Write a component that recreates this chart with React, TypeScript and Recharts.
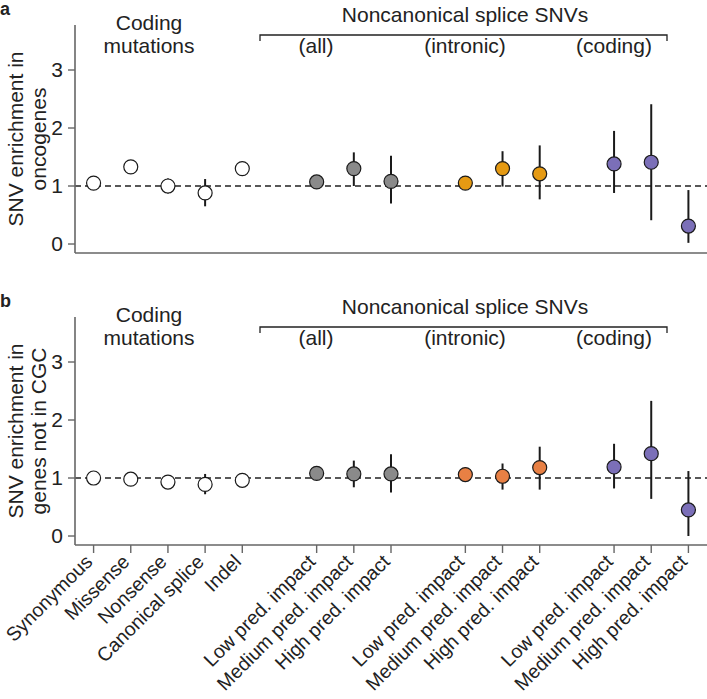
import React from 'react';
import { ScatterChart, Scatter, XAxis, YAxis, ErrorBar, ReferenceLine } from 'recharts';

const categories = [
  'Synonymous', 'Missense', 'Nonsense', 'Canonical splice', 'Indel',
  'Low pred. impact', 'Medium pred. impact', 'High pred. impact',
  'Low pred. impact', 'Medium pred. impact', 'High pred. impact',
  'Low pred. impact', 'Medium pred. impact', 'High pred. impact',
];
const xPositions = [0, 1, 2, 3, 4, 6, 7, 8, 10, 11, 12, 14, 15, 16];
const groups = [
  'coding', 'coding', 'coding', 'coding', 'coding',
  'all', 'all', 'all', 'intronic', 'intronic', 'intronic',
  'splicecoding', 'splicecoding', 'splicecoding',
];

// panel a: enrichment in oncogenes
const oncoValue = [1.05, 1.33, 1.0, 0.88, 1.3, 1.07, 1.3, 1.08, 1.05, 1.3, 1.21, 1.38, 1.41, 0.31];
const oncoLow = [1.0, 1.28, 0.87, 0.65, 1.19, 0.96, 1.0, 0.7, 0.95, 0.99, 0.77, 0.88, 0.41, 0.02];
const oncoHigh = [1.1, 1.38, 1.13, 1.12, 1.42, 1.16, 1.58, 1.52, 1.17, 1.6, 1.7, 1.95, 2.41, 0.93];

// panel b: enrichment in genes not in CGC
const nonCgcValue = [1.0, 0.98, 0.93, 0.89, 0.96, 1.08, 1.07, 1.07, 1.06, 1.03, 1.18, 1.19, 1.42, 0.45];
const nonCgcLow = [0.97, 0.95, 0.88, 0.72, 0.92, 1.02, 0.84, 0.75, 0.95, 0.8, 0.8, 0.82, 0.64, 0.0];
const nonCgcHigh = [1.03, 1.01, 0.98, 1.07, 1.0, 1.14, 1.3, 1.41, 1.18, 1.25, 1.54, 1.59, 2.33, 1.12];

const yTicks = [0, 1, 2, 3];

const colorsA: Record<string, string> = { coding: '#ffffff', all: '#8a8a8a', intronic: '#e59a13', splicecoding: '#7b6fb8' };
const colorsB: Record<string, string> = { coding: '#ffffff', all: '#8a8a8a', intronic: '#e88044', splicecoding: '#7b6fb8' };

const FONT = '"Liberation Sans", Arial, sans-serif';
const W = 707;

function buildRows(values: number[], low: number[], high: number[], colors: Record<string, string>) {
  return values.map((v, i) => ({
    x: xPositions[i],
    y: v,
    err: [v - low[i], high[i] - v],
    fill: colors[groups[i]],
  }));
}

const Dot = (props: any) => {
  const { cx, cy, payload } = props;
  return <circle cx={cx} cy={cy} r={7} fill={payload.fill} stroke="#1a1a1a" strokeWidth={1.2} />;
};

const RotTick = (props: any) => {
  const { x, y, payload } = props;
  const label = categories[xPositions.indexOf(payload.value)];
  const ax = x;
  const ay = y + 8;
  return (
    <text x={ax} y={ay} transform={`rotate(-45 ${ax} ${ay})`} textAnchor="end"
      fontSize={19.5} fontFamily={FONT} fill="#222">
      {label}
    </text>
  );
};

function Annotations({ letter, ylabel }: { letter: string; ylabel: string[] }) {
  return (
    <svg width={W} height={70} style={{ position: 'absolute', left: 0, top: 0, overflow: 'visible', pointerEvents: 'none' }}
      fontFamily={FONT} fill="#222">
      <text x={0} y={15} fontSize={18} fontWeight="bold">{letter}</text>
      <text x={149} y={30} fontSize={21} textAnchor="middle">Coding</text>
      <text x={149} y={53} fontSize={21} textAnchor="middle">mutations</text>
      <text x={465} y={22} fontSize={21} textAnchor="middle">Noncanonical splice SNVs</text>
      <polyline points="260,41 260,35 667,35 667,41" fill="none" stroke="#222" strokeWidth={1.3} />
      <text x={316} y={53} fontSize={21} textAnchor="middle">(all)</text>
      <text x={465} y={53} fontSize={21} textAnchor="middle">(intronic)</text>
      <text x={614} y={53} fontSize={21} textAnchor="middle">(coding)</text>
      <text transform="translate(23,139) rotate(-90)" fontSize={21} textAnchor="middle">{ylabel[0]}</text>
      <text transform="translate(46,139) rotate(-90)" fontSize={21} textAnchor="middle">{ylabel[1]}</text>
    </svg>
  );
}

function Panel({ rows, height, axisHeight, showLabels }: { rows: any[]; height: number; axisHeight: number; showLabels: boolean }) {
  return (
    <ScatterChart width={W} height={height} margin={{ top: 25, right: 0, bottom: 0, left: 0 }}>
      <XAxis type="number" dataKey="x" domain={[-0.5, 16.5]} ticks={xPositions} allowDataOverflow height={axisHeight}
        interval={0} tickSize={8} axisLine={{ stroke: '#666', strokeWidth: 1.6 }} tickLine={{ stroke: '#666', strokeWidth: 1.4 }}
        tick={showLabels ? <RotTick /> : false} />
      <YAxis type="number" dataKey="y" domain={[-0.155, 3.776]} ticks={yTicks} allowDataOverflow width={75}
        tickSize={7} tickMargin={5} axisLine={{ stroke: '#666', strokeWidth: 1.6 }} tickLine={{ stroke: '#666', strokeWidth: 1.4 }}
        tick={{ fontSize: 21, fontFamily: FONT, fill: '#222' }} />
      <ReferenceLine y={1} stroke="#222" strokeWidth={1.4} strokeDasharray="6 4" />
      <Scatter data={rows} shape={<Dot />} isAnimationActive={false}>
        <ErrorBar dataKey="err" direction="y" width={0} stroke="#1a1a1a" strokeWidth={2} />
      </Scatter>
    </ScatterChart>
  );
}

export default function App() {
  const rowsA = buildRows(oncoValue, oncoLow, oncoHigh, colorsA);
  const rowsB = buildRows(nonCgcValue, nonCgcLow, nonCgcHigh, colorsB);
  return (
    <div style={{ position: 'absolute', left: 0, top: 0, width: W, height: 699, background: '#fff' }}>
      <div style={{ position: 'absolute', left: 0, top: 0 }}>
        <Panel rows={rowsA} height={292} axisHeight={39} showLabels={false} />
        <Annotations letter="a" ylabel={['SNV enrichment in', 'oncogenes']} />
      </div>
      <div style={{ position: 'absolute', left: 0, top: 292 }}>
        <Panel rows={rowsB} height={407} axisHeight={154} showLabels={true} />
        <Annotations letter="b" ylabel={['SNV enrichment in', 'genes not in CGC']} />
      </div>
    </div>
  );
}
